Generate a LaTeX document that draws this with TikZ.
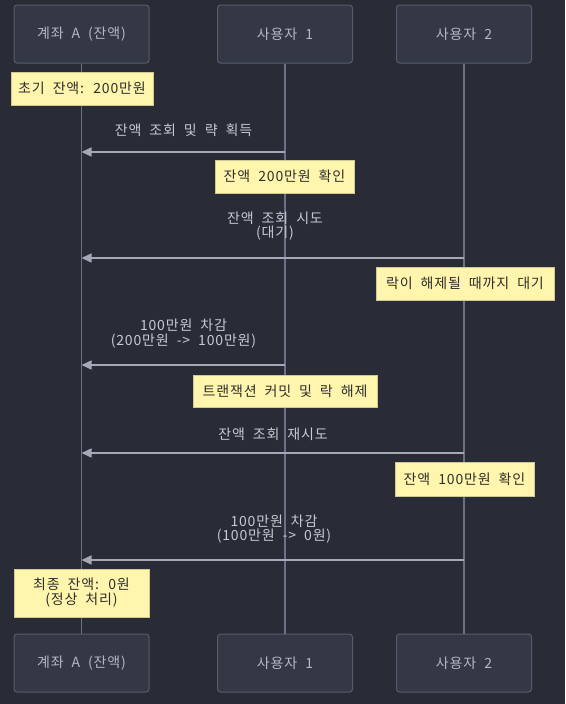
\documentclass[tikz,border=0pt]{standalone}
\usepackage{fontspec}
\setmainfont{Noto Sans CJK KR}[LetterSpace=6,WordSpace=2]
\usetikzlibrary{arrows.meta}
\definecolor{bg}{HTML}{292C36}
\definecolor{actorfill}{HTML}{343845}
\definecolor{actorline}{HTML}{565C6E}
\definecolor{actortext}{HTML}{B4B8C4}
\definecolor{lifecolor}{HTML}{6B7186}
\definecolor{msgcolor}{HTML}{A4A9B8}
\definecolor{msgtext}{HTML}{C6CAD4}
\definecolor{notefill}{HTML}{FFF5AD}
\definecolor{noteline}{HTML}{CFC994}
\definecolor{notetext}{HTML}{2E2E2E}
\begin{document}
\begin{tikzpicture}[x=1pt,y=-1pt,
    actor/.style={draw=actorline, fill=actorfill, rounded corners=3pt, line width=1pt,
        minimum width=135pt, minimum height=58pt, text=actortext,
        font=\fontsize{14}{16}\selectfont},
    note/.style={draw=noteline, fill=notefill, line width=0.8pt, text=notetext,
        align=center, font=\fontsize{14}{15}\selectfont},
    lifeline/.style={draw=lifecolor, line width=1.5pt},
    msg/.style={draw=msgcolor, line width=1.5pt, -{Triangle[length=10pt,width=9pt]}},
    msglabel/.style={text=msgtext, align=center, font=\fontsize{14}{14.5}\selectfont}]

    % background and page size
    \fill[bg] (0,0) rectangle (565,704);

    % participants at the top
    \node[actor] (acct) at (81.5,34) {계좌 A (잔액)};
    \node[actor] (user1) at (285,34) {사용자 1};
    \node[actor] (user2) at (464,34) {사용자 2};
    % participants at the bottom
    \node[actor] (acctB) at (81.5,663) {계좌 A (잔액)};
    \node[actor] (user1B) at (285,663) {사용자 1};
    \node[actor] (user2B) at (464,663) {사용자 2};

    % lifelines
    \draw[lifeline] (acct) -- (acctB);
    \draw[lifeline] (user1) -- (user1B);
    \draw[lifeline] (user2) -- (user2B);

    % initial balance
    \node[note, minimum width=142pt, minimum height=33pt] (init) at (82,88.5) {초기 잔액: 200만원};

    % user 1 reads and locks
    \coordinate (u1read) at (user1 |- 0,152);
    \coordinate (a1read) at (acct |- 0,152);
    \draw[msg] (u1read) -- (a1read);
    \node[msglabel] (lread) at (183.5,130) {잔액 조회 및 략 획득};
    \node[note, minimum width=139pt, minimum height=33pt] (seen200) at (284.5,176.5) {잔액 200만원 확인};

    % user 2 tries to read
    \coordinate (u2try) at (user2 |- 0,258);
    \coordinate (a2try) at (acct |- 0,258);
    \draw[msg] (u2try) -- (a2try);
    \node[msglabel] (ltry) at (275,226) {잔액 조회 시도\\(대기)};
    \node[note, minimum width=178pt, minimum height=33pt] (wait) at (465,283.5) {락이 해제될 때까지 대기};

    % user 1 withdraws
    \coordinate (u1sub) at (user1 |- 0,365);
    \coordinate (a1sub) at (acct |- 0,365);
    \draw[msg] (u1sub) -- (a1sub);
    \node[msglabel] (lsub1) at (183.5,333.5) {100만원 차감\\(200만원 -> 100만원)};
    \node[note, minimum width=184pt, minimum height=32pt] (commit) at (285,391) {트랜잭션 커밋 및 락 해제};

    % user 2 reads again
    \coordinate (u2retry) at (user2 |- 0,453);
    \coordinate (a2retry) at (acct |- 0,453);
    \draw[msg] (u2retry) -- (a2retry);
    \node[msglabel] (lretry) at (273,434) {잔액 조회 재시도};
    \node[note, minimum width=139pt, minimum height=34pt] (seen100) at (464.5,479) {잔액 100만원 확인};

    % user 2 withdraws
    \coordinate (u2sub) at (user2 |- 0,560);
    \coordinate (a2sub) at (acct |- 0,560);
    \draw[msg] (u2sub) -- (a2sub);
    \node[msglabel] (lsub2) at (274,529) {100만원 차감\\(100만원 -> 0원)};

    % final balance
    \node[note, minimum width=135pt, minimum height=48pt] (final) at (81.5,593) {최종 잔액: 0원\\(정상 처리)};
\end{tikzpicture}
\end{document}
